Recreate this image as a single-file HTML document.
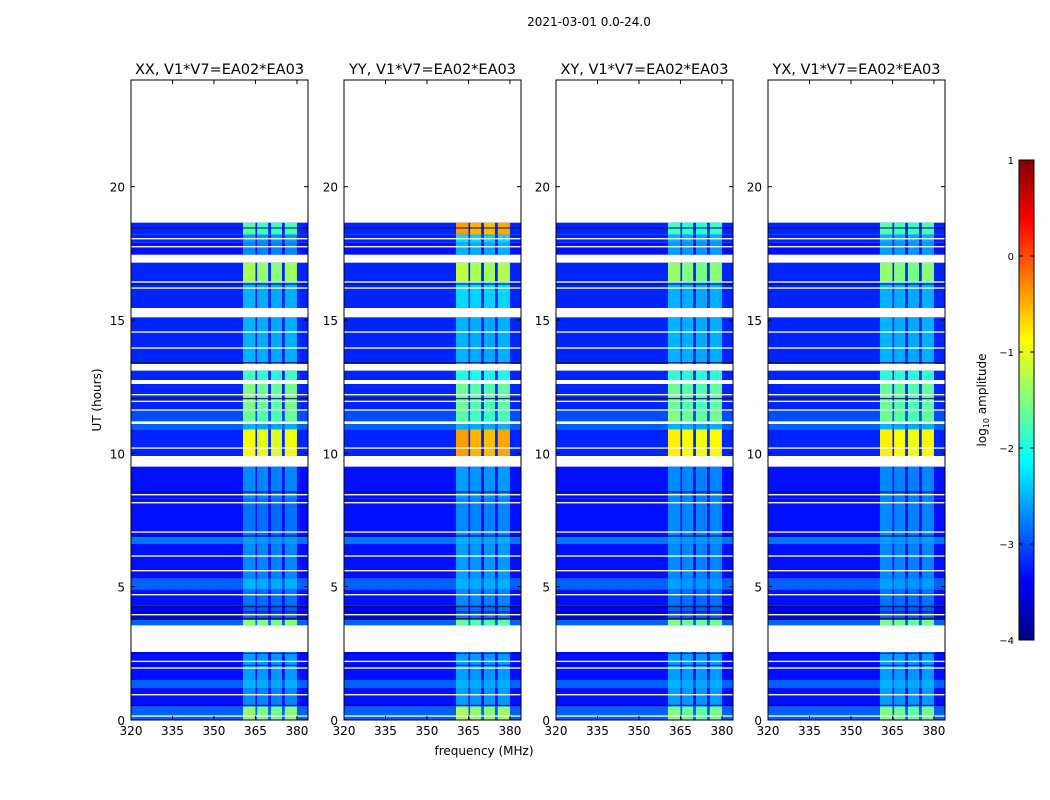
<!DOCTYPE html>
<html><head><meta charset="utf-8"><style>
body{margin:0;background:#fff;}
svg{display:block;font-family:"DejaVu Sans","Liberation Sans",sans-serif;}
</style></head><body>
<svg id="fig" width="1050" height="800" viewBox="0 0 1050 800">
<text x="589" y="26" font-size="12" text-anchor="middle">2021-03-01 0.0-24.0</text>
<text x="484" y="755" font-size="12" text-anchor="middle">frequency (MHz)</text>
<text transform="translate(101,400) rotate(-90)" font-size="12" text-anchor="middle">UT (hours)</text>
<g id="panels"></g>
<g id="cbar"></g>
</svg>
<script>
const panelTitles = ["XX, V1*V7=EA02*EA03","YY, V1*V7=EA02*EA03","XY, V1*V7=EA02*EA03","YX, V1*V7=EA02*EA03"];
const xTicks = [320,335,350,365,380];
const yTicks = [0,5,10,15,20];
const cbarTicks = [1,0,-1,-2,-3,-4];
// frequency bands (MHz) of bright RFI
const bandStart = [360.5,365.6,370.6,375.6];
const bandEnd = [365.0,369.6,374.6,380.0];
// time segments: start hour, end hour, background log-amp
const segStart = [18.2,17.9,17.45,16.45,15.45,13.35,12.75,11.65,11.2,10.9,9.9,8.3,6.85,6.6,5.3,4.9,4.3,3.75,3.55,1.5,1.2,0.5,0];
const segEnd   = [18.65,18.2,17.9,17.15,16.4,15.1,13.1,12.6,11.6,11.1,10.9,9.5,8.3,6.85,6.6,5.3,4.9,4.3,3.75,2.55,1.5,1.2,0.5];
const segBg    = [-3.2,-3.2,-3.3,-3.2,-3.2,-3.2,-3.2,-3.2,-3.0,-2.9,-3.2,-3.3,-3.3,-2.8,-3.3,-2.9,-3.3,-3.4,-2.9,-3.3,-2.9,-3.3,-2.9];
// band log-amp per panel
const bandXX = [-1.7,-2.6,-2.7,-1.3,-2.5,-2.5,-1.8,-1.5,-1.6,-2.5,-0.9,-2.7,-2.8,-2.6,-2.7,-2.5,-2.8,-2.9,-1.4,-2.6,-2.5,-2.7,-1.4];
const bandYY = [-0.4,-2.3,-2.5,-1.2,-2.3,-2.5,-2.0,-1.6,-1.7,-2.5,-0.4,-2.6,-2.7,-2.5,-2.6,-2.5,-2.7,-2.8,-1.6,-2.6,-2.5,-2.6,-1.3];
const bandXY = [-1.8,-2.5,-2.6,-1.4,-2.5,-2.5,-1.9,-1.6,-1.5,-2.5,-0.8,-2.7,-2.7,-2.6,-2.7,-2.6,-2.8,-2.9,-1.5,-2.6,-2.5,-2.6,-1.5];
const bandYX = [-1.7,-2.5,-2.6,-1.4,-2.5,-2.5,-1.9,-1.6,-1.6,-2.5,-0.8,-2.7,-2.7,-2.6,-2.7,-2.6,-2.8,-2.9,-1.5,-2.6,-2.5,-2.6,-1.5];
const bandLevels = [bandXX,bandYY,bandXY,bandYX];
const bandOffset = [0.0,0.1,0.15,0.05];
// thin flagged (white) lines, hours
const whiteLines = [18.05,17.75,16.2,14.55,13.95,12.2,11.95,10.2,8.45,8.15,7.05,6.15,5.6,4.7,3.95,2.2,1.95,0.95,0.15];
// thin dark rows, hours
const darkLines = [18.45,16.35,13.4,12.05,8.55,6.9,4.25,4.05,3.8,2.5,2.05,0.55];

const NS="http://www.w3.org/2000/svg";
function mk(tag,attrs,parent){const e=document.createElementNS(NS,tag);for(const k in attrs)e.setAttribute(k,attrs[k]);parent.appendChild(e);return e;}
function jet(v){let t=(v+4)/5;t=Math.max(0,Math.min(1,t));
 const c=x=>Math.round(255*Math.max(0,Math.min(1,x)));
 return `rgb(${c(1.5-Math.abs(4*t-3))},${c(1.5-Math.abs(4*t-2))},${c(1.5-Math.abs(4*t-1))})`;}
const panelX=[131,344,556,768], PW=177, PT=80, PB=720;
const fMin=320,fMax=384,tMin=0,tMax=24;
const panelsG=document.getElementById('panels');
panelX.forEach((x0,p)=>{
 const xs=f=>x0+(f-fMin)/(fMax-fMin)*PW;
 const ys=h=>PB-(h-tMin)/(tMax-tMin)*(PB-PT);
 const g=mk('g',{},panelsG);
 
 
 segStart.forEach((s,i)=>{
  const r=mk('rect',{x:x0,y:ys(segEnd[i]),width:PW,height:ys(s)-ys(segEnd[i]),fill:jet(segBg[i])},g);
  
  
  bandStart.forEach((b,j)=>{
   const br=mk('rect',{x:xs(b),y:ys(segEnd[i]),width:xs(bandEnd[j])-xs(b),height:ys(s)-ys(segEnd[i]),fill:jet(bandLevels[p][i]-bandOffset[j]*(bandLevels[p][i]>-1.9?1:0.3))},g);
   
   
  });
 });
 darkLines.forEach(h=>{
  const l=mk('rect',{x:x0,y:ys(h)-0.5,width:PW,height:1,fill:'#001060'},g);
  
  
 });
 whiteLines.forEach(h=>{
  const l=mk('rect',{x:x0,y:ys(h)-0.6,width:PW,height:1.3,fill:'#fff'},g);
  
  
 });
 const fr=mk('rect',{x:x0,y:PT,width:PW,height:PB-PT,fill:'none',stroke:'#000','stroke-width':1},g);
 
 
 const tt=mk('text',{x:x0+PW/2,y:74,'font-size':14.5,'text-anchor':'middle'},g);tt.textContent=panelTitles[p];
 
 
 xTicks.forEach(v=>{const X=xs(v);
  mk('line',{x1:X,x2:X,y1:PB,y2:PB-4,stroke:'#000'},g);mk('line',{x1:X,x2:X,y1:PT,y2:PT+4,stroke:'#000'},g);
  const t=mk('text',{x:X,y:PB+15,'font-size':12,'text-anchor':'middle'},g);t.textContent=v;
  
  });
 yTicks.forEach(v=>{const Y=ys(v);
  mk('line',{x1:x0,x2:x0+4,y1:Y,y2:Y,stroke:'#000'},g);mk('line',{x1:x0+PW,x2:x0+PW-4,y1:Y,y2:Y,stroke:'#000'},g);
  const t=mk('text',{x:x0-6,y:Y+5,'font-size':12,'text-anchor':'end'},g);t.textContent=v;
  
  });
});
// colorbar
const cb=document.getElementById('cbar');
const cx=1019,cw=15,cTop=160,cBot=640;
const cy=v=>cBot-(v+4)/5*(cBot-cTop);
for(let i=0;i<120;i++){const v=-4+5*i/120;
 const r=mk('rect',{x:cx,y:cy(v+5/120),width:cw,height:(cBot-cTop)/120+0.5,fill:jet(v+2.5/120)},cb);
 
 }
const cf=mk('rect',{x:cx,y:cTop,width:cw,height:cBot-cTop,fill:'none',stroke:'#000'},cb);


cbarTicks.forEach(v=>{const Y=cy(v);
 mk('line',{x1:cx,x2:cx+4,y1:Y,y2:Y,stroke:'#000'},cb);mk('line',{x1:cx+cw,x2:cx+cw-4,y1:Y,y2:Y,stroke:'#000'},cb);
 const t=mk('text',{x:cx-5,y:Y+4,'font-size':10,'text-anchor':'end'},cb);t.textContent=v<0?'\u2212'+(-v):v;
 
 });
const cl=mk('text',{transform:'translate(986,400) rotate(-90)','font-size':12,'text-anchor':'middle'},cb);
cl.innerHTML='log<tspan font-size="8" dy="3">10</tspan><tspan dy="-3"> amplitude</tspan>';


</script>
</body></html>
